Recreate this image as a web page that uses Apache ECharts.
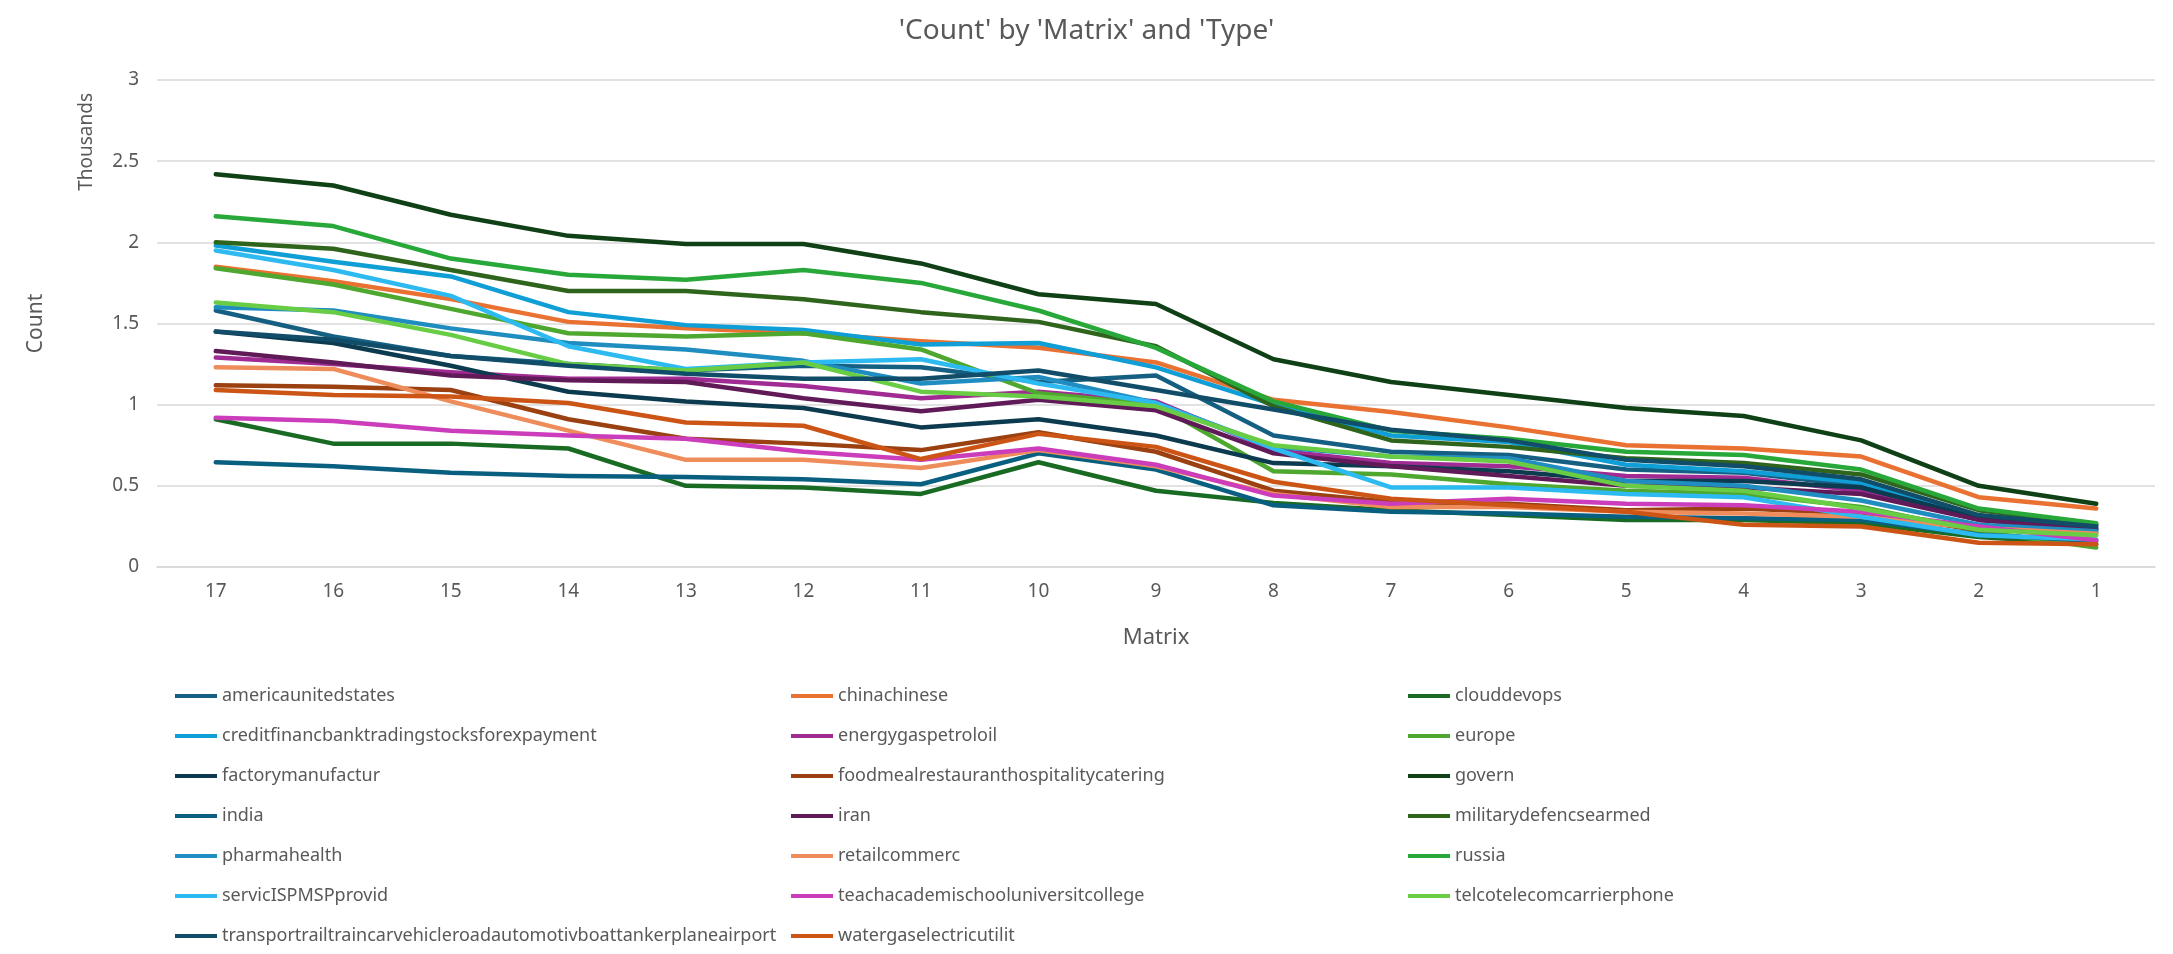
<!DOCTYPE html>
<html>
<head>
<meta charset="utf-8">
<script src="https://cdn.jsdelivr.net/npm/echarts@6/dist/echarts.min.js"></script>
<style>
html,body{margin:0;padding:0;background:#fff;}
#chart{width:2173px;height:954px;}
</style>
</head>
<body>
<div id="chart"></div>
<script>
// Categories (Matrix), values in thousands (Count / 1000)
const categories = ['17','16','15','14','13','12','11','10','9','8','7','6','5','4','3','2','1'];
const yTicks = [0, 0.5, 1, 1.5, 2, 2.5, 3];

const seriesNames = [
  'americaunitedstates','chinachinese','clouddevops',
  'creditfinancbanktradingstocksforexpayment','energygaspetroloil','europe',
  'factorymanufactur','foodmealrestauranthospitalitycatering','govern',
  'india','iran','militarydefencsearmed',
  'pharmahealth','retailcommerc','russia',
  'servicISPMSPprovid','teachacademischooluniversitcollege','telcotelecomcarrierphone',
  'transportrailtraincarvehicleroadautomotivboattankerplaneairport','watergaselectricutilit'
];

const americaunitedstates = [1.58,1.42,1.30,1.25,1.21,1.24,1.23,1.14,1.18,0.81,0.71,0.69,0.60,0.58,0.50,0.30,0.23];
const chinachinese        = [1.85,1.76,1.65,1.51,1.47,1.44,1.39,1.35,1.26,1.03,0.955,0.86,0.75,0.73,0.68,0.43,0.36];
const clouddevops         = [0.91,0.76,0.76,0.73,0.50,0.49,0.45,0.645,0.47,0.395,0.35,0.32,0.29,0.29,0.27,0.185,0.14];
const creditfinanc        = [1.98,1.88,1.79,1.57,1.49,1.46,1.37,1.38,1.23,1.00,0.81,0.77,0.63,0.59,0.52,0.31,0.24];
const energygaspetroloil  = [1.29,1.25,1.20,1.16,1.16,1.115,1.04,1.08,1.02,0.72,0.64,0.62,0.56,0.55,0.47,0.29,0.24];
const europe              = [1.84,1.74,1.59,1.44,1.42,1.44,1.34,1.07,1.00,0.59,0.57,0.51,0.47,0.45,0.37,0.22,0.12];
const factorymanufactur   = [1.45,1.38,1.24,1.08,1.02,0.98,0.86,0.91,0.81,0.64,0.62,0.59,0.53,0.53,0.49,0.30,0.26];
const foodmeal            = [1.12,1.11,1.09,0.91,0.79,0.76,0.72,0.83,0.71,0.47,0.40,0.39,0.35,0.36,0.33,0.23,0.21];
const govern              = [2.42,2.35,2.17,2.04,1.99,1.99,1.87,1.68,1.62,1.28,1.14,1.06,0.98,0.93,0.78,0.50,0.39];
const india               = [0.645,0.62,0.58,0.56,0.555,0.54,0.51,0.70,0.60,0.38,0.34,0.33,0.31,0.30,0.29,0.20,0.16];
const iran                = [1.33,1.26,1.18,1.15,1.14,1.04,0.96,1.03,0.965,0.70,0.62,0.56,0.50,0.49,0.45,0.29,0.23];
const militarydefenc      = [2.00,1.96,1.83,1.70,1.70,1.65,1.57,1.51,1.36,0.99,0.78,0.74,0.67,0.64,0.57,0.35,0.26];
const pharmahealth        = [1.60,1.58,1.47,1.38,1.34,1.27,1.13,1.17,1.01,0.74,0.68,0.67,0.53,0.50,0.41,0.26,0.22];
const retailcommerc       = [1.23,1.22,1.02,0.84,0.66,0.66,0.61,0.72,0.62,0.45,0.37,0.37,0.34,0.33,0.31,0.24,0.205];
const russia              = [2.16,2.10,1.90,1.80,1.77,1.83,1.75,1.58,1.35,1.02,0.84,0.79,0.71,0.69,0.60,0.36,0.27];
const servicISPMSP        = [1.95,1.83,1.67,1.36,1.22,1.26,1.28,1.13,1.01,0.73,0.49,0.49,0.45,0.43,0.31,0.195,0.17];
const teachacademi        = [0.92,0.90,0.84,0.81,0.79,0.71,0.66,0.73,0.63,0.44,0.39,0.42,0.39,0.38,0.34,0.25,0.165];
const telcotelecom        = [1.63,1.57,1.43,1.25,1.21,1.26,1.08,1.05,0.99,0.75,0.68,0.65,0.50,0.47,0.36,0.23,0.195];
const transportrail       = [1.45,1.40,1.30,1.24,1.19,1.16,1.16,1.21,1.09,0.97,0.845,0.78,0.66,0.62,0.54,0.32,0.25];
const watergaselectric    = [1.09,1.06,1.05,1.01,0.89,0.87,0.665,0.82,0.74,0.525,0.42,0.38,0.34,0.26,0.25,0.15,0.14];

const seriesValues = [
  americaunitedstates, chinachinese, clouddevops,
  creditfinanc, energygaspetroloil, europe,
  factorymanufactur, foodmeal, govern,
  india, iran, militarydefenc,
  pharmahealth, retailcommerc, russia,
  servicISPMSP, teachacademi, telcotelecom,
  transportrail, watergaselectric
];

const colors = [
  '#156082','#E97132','#196B24','#0F9ED5','#A02B93','#4EA72E',
  '#0C3A4E','#9A4011','#0F4016','#095F80','#601A58','#2F641C',
  '#1F8DC0','#EE8D5B','#27A838','#2DBAF0','#CB3DBB','#68CC45',
  '#114D68','#CC5516'
];

const FONT = 'Noto Sans';
const TXT = '#595959';

const series = seriesNames.map((name, i) => ({
  name: name,
  type: 'line',
  data: seriesValues[i],
  symbol: 'none',
  smooth: false,
  lineStyle: { width: 4.5, color: colors[i], cap: 'round', join: 'round' },
  itemStyle: { color: colors[i] },
  emphasis: { disabled: true }
}));

function legendCol(col, left) {
  const names = seriesNames.filter((n, i) => i % 3 === col);
  return {
    orient: 'vertical',
    left: left,
    top: 680,
    itemWidth: 42,
    itemHeight: 4,
    itemGap: 18,
    icon: 'rect',
    data: names,
    selectedMode: false,
    textStyle: { fontFamily: FONT, fontSize: 18, color: TXT, lineHeight: 22, padding: [0,0,0,0] }
  };
}

const chart = echarts.init(document.getElementById('chart'), null, { renderer: 'canvas' });
chart.setOption({
  animation: false,
  color: colors,
  title: {
    text: "'Count' by 'Matrix' and 'Type'",
    left: 'center',
    top: 12,
    textStyle: { fontFamily: FONT, fontSize: 28, fontWeight: 'normal', color: TXT }
  },
  legend: [legendCol(0, 170), legendCol(1, 786), legendCol(2, 1403)],
  grid: { left: 157, right: 18, top: 80, bottom: 387, containLabel: false },
  xAxis: {
    type: 'category',
    data: categories,
    boundaryGap: true,
    name: 'Matrix',
    nameLocation: 'middle',
    nameGap: 60,
    nameTextStyle: { fontFamily: FONT, fontSize: 22, color: TXT },
    axisLine: { show: true, lineStyle: { color: '#d9d9d9', width: 1.5 } },
    axisTick: { show: false },
    axisLabel: { fontFamily: FONT, fontSize: 19, color: TXT, margin: 15 }
  },
  yAxis: {
    type: 'value',
    min: yTicks[0],
    max: yTicks[yTicks.length - 1],
    interval: 0.5,
    name: 'Count',
    nameLocation: 'middle',
    nameGap: 110,
    nameRotate: 90,
    nameTextStyle: { fontFamily: FONT, fontSize: 21, color: TXT },
    axisLine: { show: false },
    axisTick: { show: false },
    axisLabel: { fontFamily: FONT, fontSize: 19, color: TXT, margin: 18 },
    splitLine: { show: true, lineStyle: { color: '#d9d9d9', width: 1.5 } }
  },
  graphic: [{
    type: 'text',
    left: 77,
    top: 93,
    rotation: Math.PI / 2,
    style: { text: 'Thousands', fontFamily: FONT, fontSize: 19, fill: TXT }
  }],
  series: series
});
</script>
</body>
</html>
